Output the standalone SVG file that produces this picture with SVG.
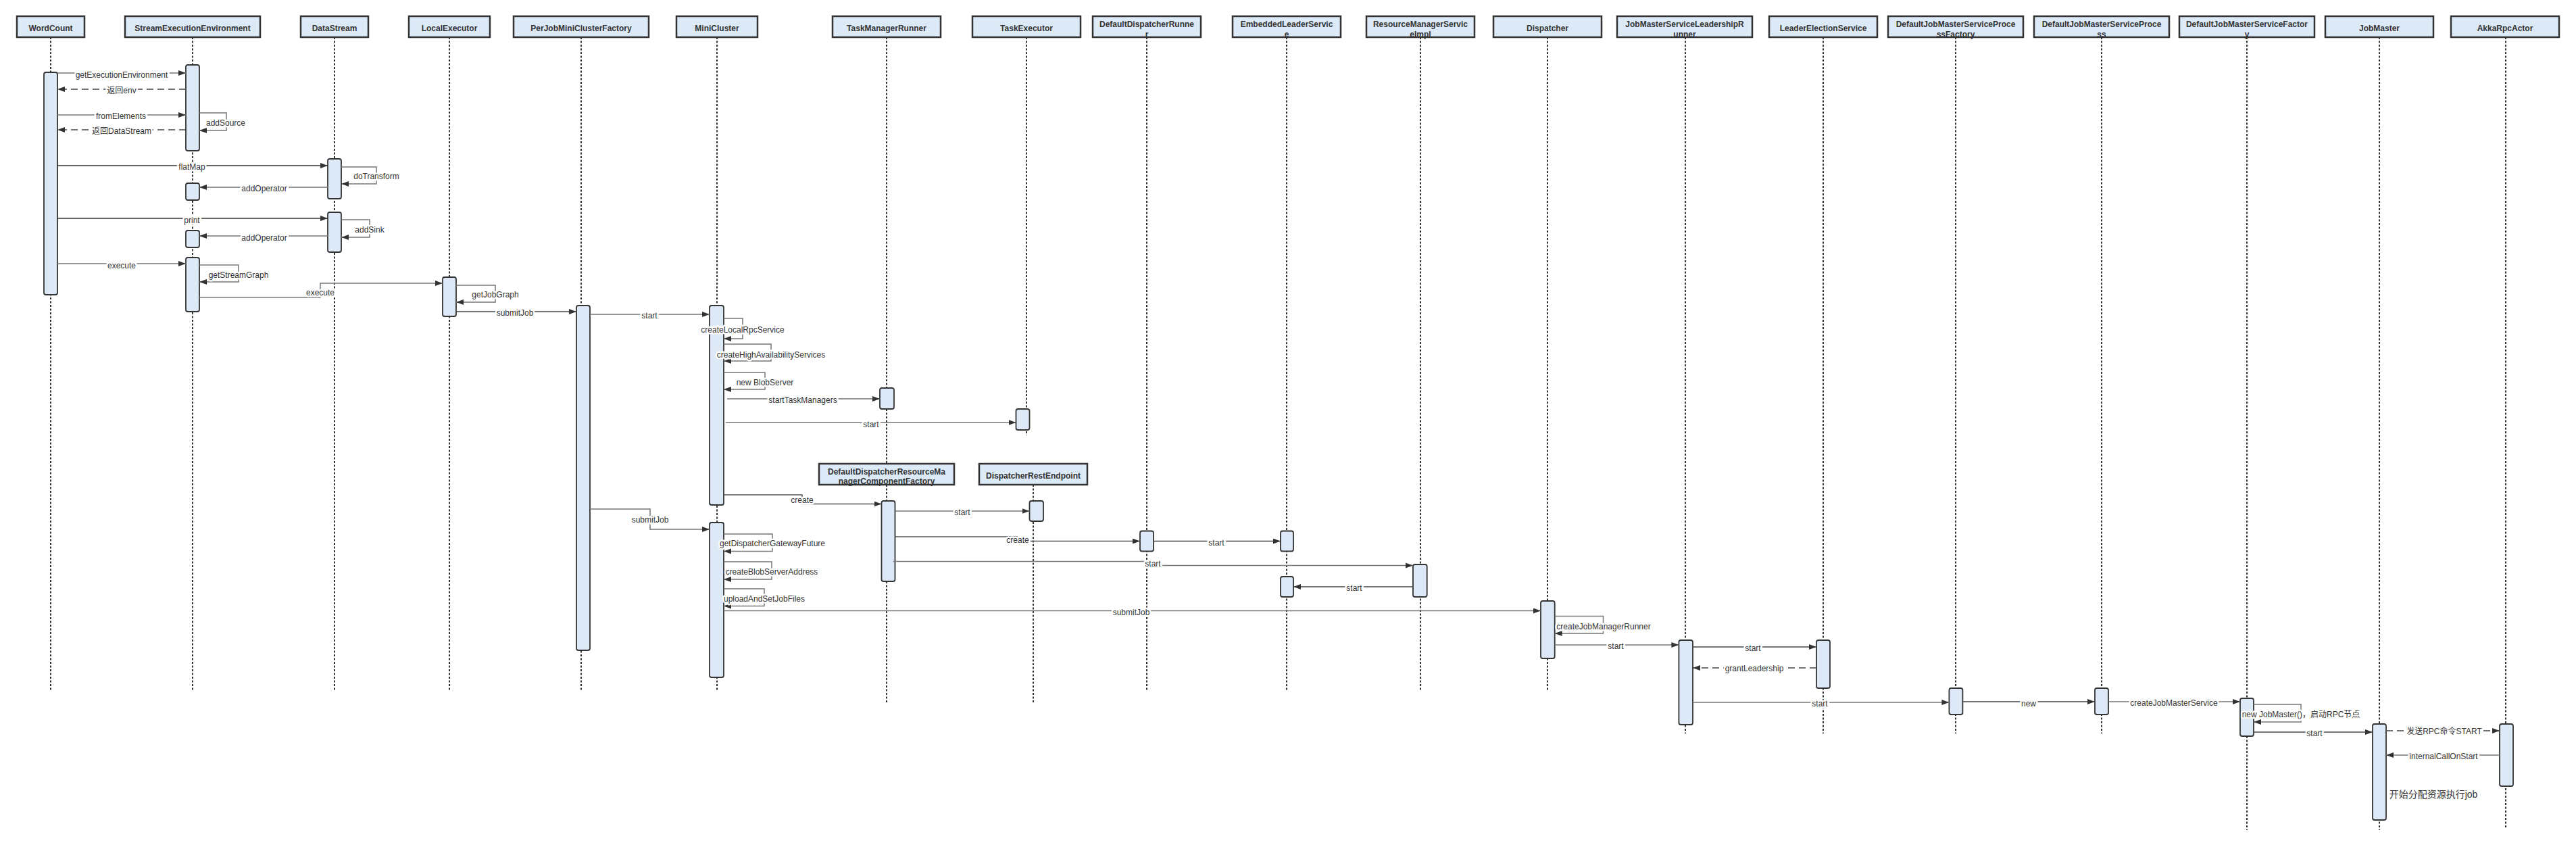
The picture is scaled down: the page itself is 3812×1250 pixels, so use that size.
<svg xmlns="http://www.w3.org/2000/svg" width="3812" height="1250" viewBox="0 0 3812 1250">
<style>
.hd{fill:#dce9f7;stroke:#333;stroke-width:2.5}
.ht{font-family:"Liberation Sans",Arial,sans-serif;font-weight:bold;font-size:12px;fill:#333;text-anchor:middle}
.ll{stroke:#333;stroke-width:2;stroke-dasharray:3 2.5;fill:none}
.act{fill:#dde9f7;stroke:#333;stroke-width:1.8}
.m{fill:none;stroke:#777;stroke-width:1.5;marker-end:url(#ah)}
.d{fill:none;stroke:#444;stroke-width:1.3;stroke-dasharray:10 6;marker-end:url(#ah)}
.lb{font-family:"Liberation Sans",Arial,"Noto Sans CJK SC",sans-serif;font-size:12px;fill:#333;text-anchor:middle;paint-order:stroke;stroke:#fff;stroke-width:5;stroke-linejoin:round}
</style>
<defs>
<marker id="ah" markerUnits="userSpaceOnUse" markerWidth="12" markerHeight="9" refX="11" refY="4" orient="auto"><path d="M0,0 L11,4 L0,8 z" fill="#333"/></marker>
</defs>
<rect width="3812" height="1250" fill="#fff"/>
<g id="WordCount"><line class="ll" x1="75" y1="55" x2="75" y2="1023"/><rect class="hd" x="25" y="24" width="100" height="31"/><text class="ht" x="75" y="46">WordCount</text><rect class="act" x="65" y="107" width="20" height="329" rx="3"/></g>
<g id="StreamExecutionEnvironment"><line class="ll" x1="285" y1="55" x2="285" y2="1023"/><rect class="hd" x="185" y="24" width="200" height="31"/><text class="ht" x="285" y="46">StreamExecutionEnvironment</text><rect class="act" x="275" y="96" width="20" height="127" rx="3"/><rect class="act" x="275" y="271" width="20" height="25" rx="3"/><rect class="act" x="275" y="341" width="20" height="25" rx="3"/><rect class="act" x="275" y="381" width="20" height="80" rx="3"/></g>
<g id="DataStream"><line class="ll" x1="495" y1="55" x2="495" y2="1023"/><rect class="hd" x="445" y="24" width="100" height="31"/><text class="ht" x="495" y="46">DataStream</text><rect class="act" x="485" y="235" width="20" height="59" rx="3"/><rect class="act" x="485" y="314" width="20" height="59" rx="3"/></g>
<g id="LocalExecutor"><line class="ll" x1="665" y1="55" x2="665" y2="1023"/><rect class="hd" x="605" y="24" width="120" height="31"/><text class="ht" x="665" y="46">LocalExecutor</text><rect class="act" x="655" y="410" width="20" height="58" rx="3"/></g>
<g id="PerJobMiniClusterFactory"><line class="ll" x1="860" y1="55" x2="860" y2="1023"/><rect class="hd" x="760" y="24" width="200" height="31"/><text class="ht" x="860" y="46">PerJobMiniClusterFactory</text><rect class="act" x="853" y="452" width="20" height="510" rx="3"/></g>
<g id="MiniCluster"><line class="ll" x1="1061" y1="55" x2="1061" y2="1023"/><rect class="hd" x="1001" y="24" width="120" height="31"/><text class="ht" x="1061" y="46">MiniCluster</text><rect class="act" x="1050" y="452" width="21" height="295" rx="3"/><rect class="act" x="1050" y="773" width="21" height="229" rx="3"/></g>
<g id="TaskManagerRunner"><line class="ll" x1="1312" y1="55" x2="1312" y2="686"/><rect class="hd" x="1232" y="24" width="160" height="31"/><text class="ht" x="1312" y="46">TaskManagerRunner</text><rect class="act" x="1302" y="574" width="21" height="31" rx="3"/></g>
<g id="TaskExecutor"><line class="ll" x1="1519" y1="55" x2="1519" y2="644"/><rect class="hd" x="1439" y="24" width="160" height="31"/><text class="ht" x="1519" y="46">TaskExecutor</text><rect class="act" x="1503.5" y="605" width="20" height="31" rx="3"/></g>
<g id="DefaultDispatcherResourceManagerComponentFactory"><line class="ll" x1="1312" y1="717" x2="1312" y2="1041"/><rect class="hd" x="1212" y="686" width="200" height="31"/><text class="ht" x="1312" y="701.5">DefaultDispatcherResourceMa</text><text class="ht" x="1312" y="716">nagerComponentFactory</text><rect class="act" x="1304.5" y="741" width="20" height="119" rx="3"/></g>
<g id="DispatcherRestEndpoint"><line class="ll" x1="1529" y1="717" x2="1529" y2="1041"/><rect class="hd" x="1449" y="686" width="160" height="31"/><text class="ht" x="1529" y="708">DispatcherRestEndpoint</text><rect class="act" x="1523.5" y="741" width="20.5" height="30" rx="3"/></g>
<g id="DefaultDispatcherRunner"><line class="ll" x1="1697" y1="55" x2="1697" y2="1023"/><rect class="hd" x="1617" y="24" width="160" height="31"/><text class="ht" x="1697" y="39.5">DefaultDispatcherRunne</text><text class="ht" x="1697" y="54.5">r</text><rect class="act" x="1687" y="785.5" width="20" height="30" rx="3"/></g>
<g id="EmbeddedLeaderService"><line class="ll" x1="1904" y1="55" x2="1904" y2="1023"/><rect class="hd" x="1824" y="24" width="160" height="31"/><text class="ht" x="1904" y="39.5">EmbeddedLeaderServic</text><text class="ht" x="1904" y="54.5">e</text><rect class="act" x="1895" y="785.5" width="19" height="30" rx="3"/><rect class="act" x="1895" y="853" width="19" height="30" rx="3"/></g>
<g id="ResourceManagerServiceImpl"><line class="ll" x1="2102" y1="55" x2="2102" y2="1023"/><rect class="hd" x="2022" y="24" width="160" height="31"/><text class="ht" x="2102" y="39.5">ResourceManagerServic</text><text class="ht" x="2102" y="54.5">eImpl</text><rect class="act" x="2091" y="835" width="20.7" height="48" rx="3"/></g>
<g id="Dispatcher"><line class="ll" x1="2290" y1="55" x2="2290" y2="1023"/><rect class="hd" x="2210" y="24" width="160" height="31"/><text class="ht" x="2290" y="46">Dispatcher</text><rect class="act" x="2280" y="889" width="20.7" height="85" rx="3"/></g>
<g id="JobMasterServiceLeadershipRunner"><line class="ll" x1="2494" y1="55" x2="2494" y2="1085"/><rect class="hd" x="2393" y="24" width="200" height="31"/><text class="ht" x="2493" y="39.5">JobMasterServiceLeadershipR</text><text class="ht" x="2493" y="54.5">unner</text><rect class="act" x="2484.4" y="947" width="20.6" height="125" rx="3"/></g>
<g id="LeaderElectionService"><line class="ll" x1="2698" y1="55" x2="2698" y2="1085"/><rect class="hd" x="2618" y="24" width="160" height="31"/><text class="ht" x="2698" y="46">LeaderElectionService</text><rect class="act" x="2688" y="947" width="20" height="71" rx="3"/></g>
<g id="DefaultJobMasterServiceProcessFactory"><line class="ll" x1="2894" y1="55" x2="2894" y2="1085"/><rect class="hd" x="2794" y="24" width="200" height="31"/><text class="ht" x="2894" y="39.5">DefaultJobMasterServiceProce</text><text class="ht" x="2894" y="54.5">ssFactory</text><rect class="act" x="2884.4" y="1018" width="20" height="39" rx="3"/></g>
<g id="DefaultJobMasterServiceProcess"><line class="ll" x1="3110" y1="55" x2="3110" y2="1085"/><rect class="hd" x="3010" y="24" width="200" height="31"/><text class="ht" x="3110" y="39.5">DefaultJobMasterServiceProce</text><text class="ht" x="3110" y="54.5">ss</text><rect class="act" x="3100" y="1018" width="20" height="39" rx="3"/></g>
<g id="DefaultJobMasterServiceFactory"><line class="ll" x1="3325" y1="55" x2="3325" y2="1228"/><rect class="hd" x="3225" y="24" width="200" height="31"/><text class="ht" x="3325" y="39.5">DefaultJobMasterServiceFactor</text><text class="ht" x="3325" y="54.5">y</text><rect class="act" x="3315" y="1033" width="20" height="56" rx="3"/></g>
<g id="JobMaster"><line class="ll" x1="3521" y1="55" x2="3521" y2="1228"/><rect class="hd" x="3441" y="24" width="160" height="31"/><text class="ht" x="3521" y="46">JobMaster</text><rect class="act" x="3511" y="1071" width="20" height="142" rx="3"/></g>
<g id="AkkaRpcActor"><line class="ll" x1="3708" y1="55" x2="3708" y2="1226"/><rect class="hd" x="3627" y="24" width="160" height="31"/><text class="ht" x="3707" y="46">AkkaRpcActor</text><rect class="act" x="3699" y="1071" width="20" height="92" rx="3"/></g>
<g id="connectors">
<path class="m" d="M85,108 H275"/>
<path class="d" d="M275,132 H85"/>
<path class="m" d="M85,170 H275"/>
<path class="m" d="M295,167 H335 V193 H295"/>
<path class="d" d="M275,192 H85"/>
<path class="m" d="M85,245 H485" style="stroke:#333;stroke-width:1.3"/>
<path class="m" d="M505,247 H557 V272 H505"/>
<path class="m" d="M485,277 H295"/>
<path class="m" d="M85,323 H485" style="stroke:#333;stroke-width:1.3"/>
<path class="m" d="M505,325 H547 V351 H505"/>
<path class="m" d="M485,349 H295"/>
<path class="m" d="M85,390 H275"/>
<path class="m" d="M295,392 H353 V417 H295"/>
<path class="m" d="M295,440 H474 V419 H655"/>
<path class="m" d="M675,422 H733 V447 H675"/>
<path class="m" d="M675,461 H853" style="stroke:#444"/>
<path class="m" d="M873,465 H1050"/>
<path class="m" d="M1071,471 H1099 V501 H1071"/>
<path class="m" d="M1071,509 H1141 V534 H1071"/>
<path class="m" d="M1071,551 H1132 V576 H1071"/>
<path class="m" d="M1076,590 H1302"/>
<path class="m" d="M1074,625 H1503.5" style="stroke:#333;stroke-width:1.2"/>
<path class="m" d="M1071,732 H1187 V745.5 H1304.5" style="stroke:#555"/>
<path class="m" d="M1324.5,756 H1523.5"/>
<path class="m" d="M1324.5,794 H1505 V800.5 H1687" style="stroke:#555"/>
<path class="m" d="M1707,800.5 H1895" style="stroke:#444"/>
<path class="m" d="M1322,830.5 H1706 V836.4 H2091"/>
<path class="m" d="M2091,868 H1914" style="stroke:#444"/>
<path class="m" d="M873,753 H962 V783 H1050"/>
<path class="m" d="M1071,790 H1143 V815.5 H1071"/>
<path class="m" d="M1071,831 H1142 V857 H1071"/>
<path class="m" d="M1071,871 H1131 V896.5 H1071"/>
<path class="m" d="M1071,903.5 H2280"/>
<path class="m" d="M2300.7,911.5 H2372.5 V937 H2300.7"/>
<path class="m" d="M2300.7,954 H2484.4"/>
<path class="m" d="M2505,957 H2688" style="stroke:#444"/>
<path class="d" d="M2688,988 H2505"/>
<path class="m" d="M2505,1039 H2884.4"/>
<path class="m" d="M2904.5,1038 H3100" style="stroke:#444"/>
<path class="m" d="M3120,1038 H3315"/>
<path class="m" d="M3335,1042 H3405 V1068 H3335"/>
<path class="m" d="M3335,1083 H3511" style="stroke:#444"/>
<path class="d" d="M3531,1081 H3699"/>
<path class="m" d="M3699,1117 H3531"/>
<text class="lb" x="180" y="115">getExecutionEnvironment</text>
<text class="lb" x="180" y="138">返回env</text>
<text class="lb" x="179" y="176">fromElements</text>
<text class="lb" x="334" y="186">addSource</text>
<text class="lb" x="180" y="198">返回DataStream</text>
<text class="lb" x="284" y="251">flatMap</text>
<text class="lb" x="557" y="265">doTransform</text>
<text class="lb" x="391" y="283">addOperator</text>
<text class="lb" x="284" y="330">print</text>
<text class="lb" x="547" y="344">addSink</text>
<text class="lb" x="391" y="356">addOperator</text>
<text class="lb" x="180" y="397">execute</text>
<text class="lb" x="353" y="411">getStreamGraph</text>
<text class="lb" x="474" y="437">execute</text>
<text class="lb" x="733" y="440">getJobGraph</text>
<text class="lb" x="762" y="467">submitJob</text>
<text class="lb" x="961" y="471">start</text>
<text class="lb" x="1099" y="492">createLocalRpcService</text>
<text class="lb" x="1141" y="529">createHighAvailabilityServices</text>
<text class="lb" x="1132" y="570">new BlobServer</text>
<text class="lb" x="1188" y="596">startTaskManagers</text>
<text class="lb" x="1289" y="632">start</text>
<text class="lb" x="1187" y="744">create</text>
<text class="lb" x="1424" y="762">start</text>
<text class="lb" x="1506" y="803">create</text>
<text class="lb" x="1800" y="807">start</text>
<text class="lb" x="1706" y="838">start</text>
<text class="lb" x="2004" y="874">start</text>
<text class="lb" x="962" y="773">submitJob</text>
<text class="lb" x="1143" y="808">getDispatcherGatewayFuture</text>
<text class="lb" x="1142" y="850">createBlobServerAddress</text>
<text class="lb" x="1131" y="890">uploadAndSetJobFiles</text>
<text class="lb" x="1674" y="910">submitJob</text>
<text class="lb" x="2373" y="931">createJobManagerRunner</text>
<text class="lb" x="2391" y="960">start</text>
<text class="lb" x="2594" y="963">start</text>
<text class="lb" x="2596" y="993">grantLeadership</text>
<text class="lb" x="2693" y="1045">start</text>
<text class="lb" x="3002" y="1045">new</text>
<text class="lb" x="3217" y="1044">createJobMasterService</text>
<text class="lb" x="3405" y="1061">new JobMaster()，启动RPC节点</text>
<text class="lb" x="3425" y="1089">start</text>
<text class="lb" x="3617" y="1086">发送RPC命令START</text>
<text class="lb" x="3616" y="1123">internalCallOnStart</text>
<text class="lb" x="3601" y="1180" style="font-size:14px">开始分配资源执行job</text>
</g>
</svg>
